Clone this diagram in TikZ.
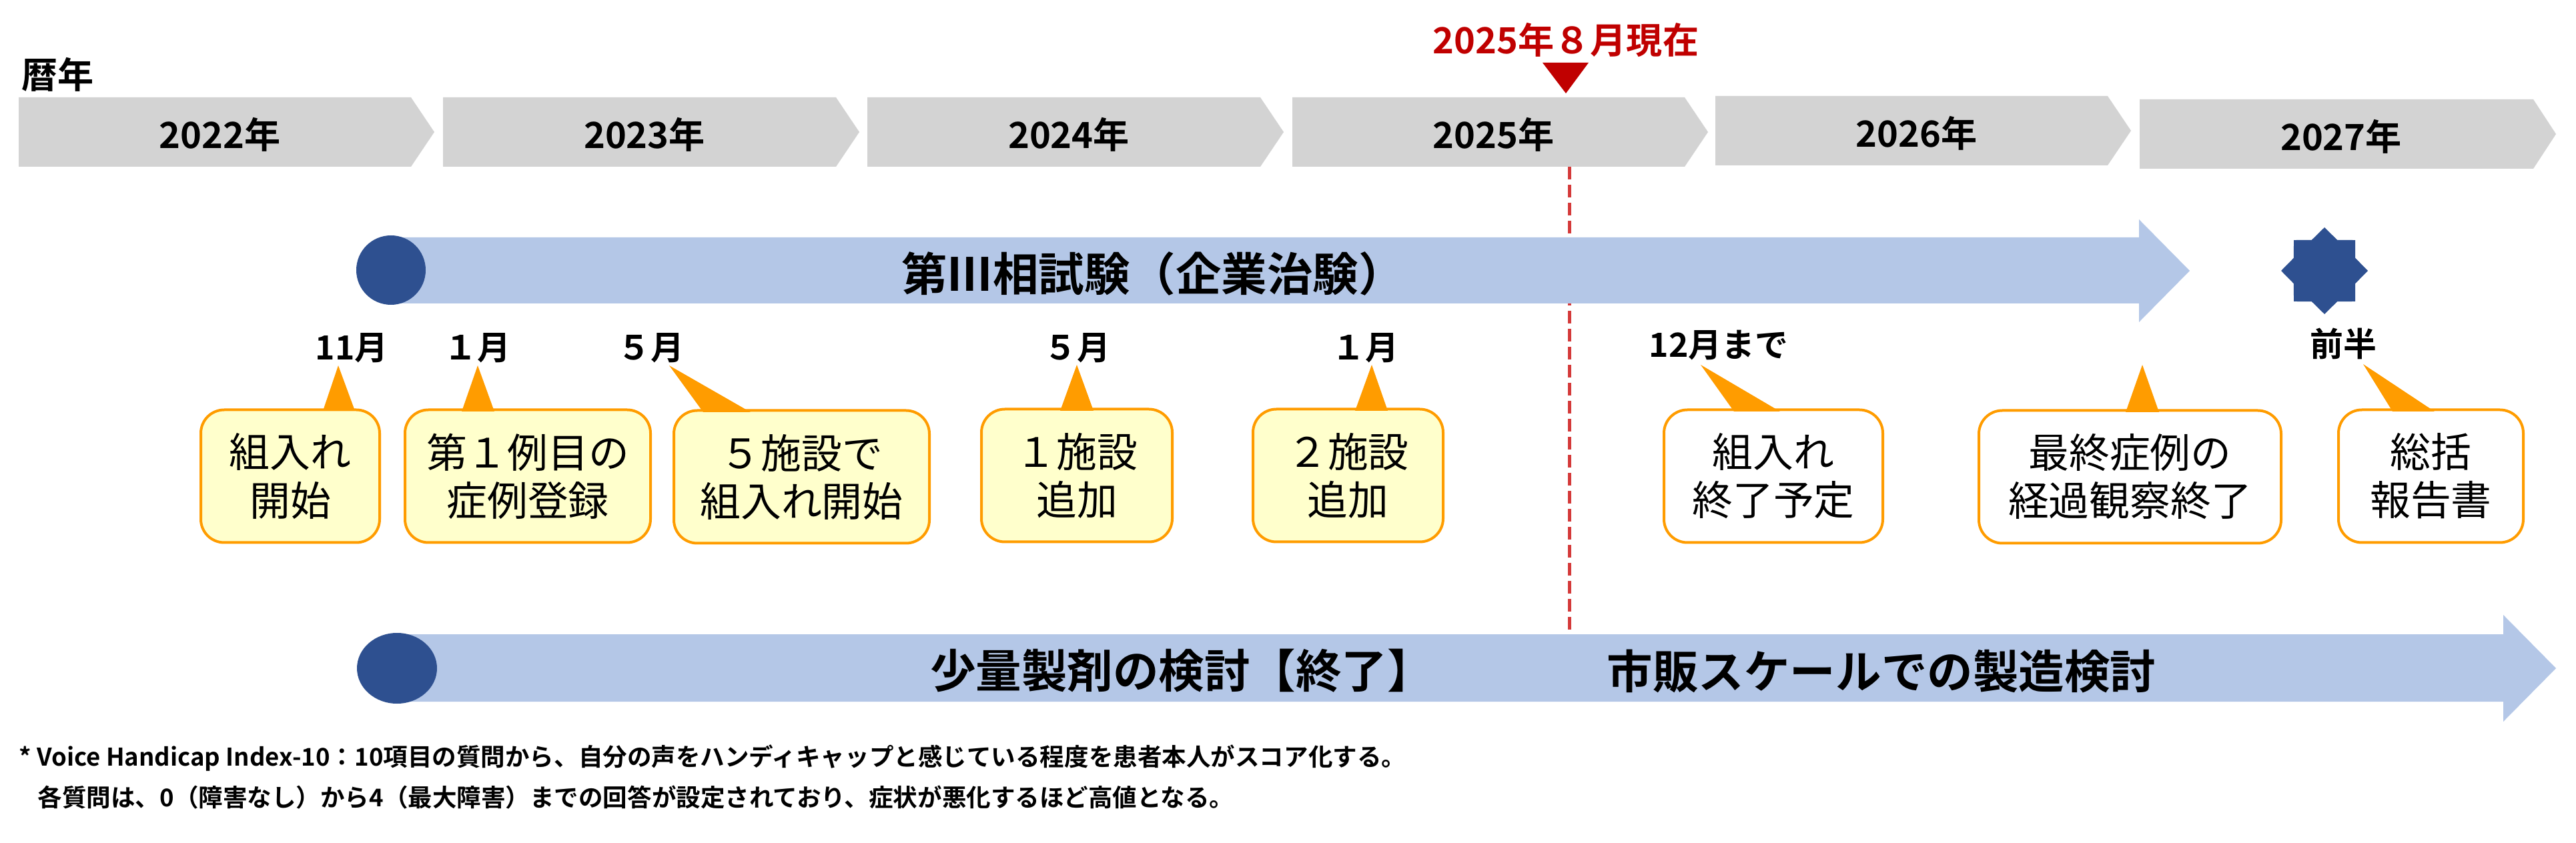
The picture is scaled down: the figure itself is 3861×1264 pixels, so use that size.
\documentclass[tikz,border=0pt]{standalone}
\usepackage{fontspec}
\setmainfont{Noto Sans CJK JP}[BoldFont={Noto Sans CJK JP Bold}]
\definecolor{chevgray}{HTML}{D3D3D3}
\definecolor{arrowblue}{HTML}{B4C7E7}
\definecolor{darkblue}{HTML}{2E5090}
\definecolor{callorange}{HTML}{FF9C00}
\definecolor{callyellow}{HTML}{FFFFCC}
\definecolor{nowred}{HTML}{C00000}
\definecolor{dashred}{HTML}{D43A3A}
\begin{document}
\begin{tikzpicture}[x=0.1mm,y=-0.1mm,
  yearlab/.style={inner sep=0, font=\fontsize{15.4}{18}\selectfont\bfseries},
  monthlab/.style={inner sep=0, font=\fontsize{14.2}{17}\selectfont\bfseries},
  arrowlab/.style={inner sep=0, font=\fontsize{19.5}{23}\selectfont\bfseries},
  callout/.style={draw=callorange, line width=0.4mm, rounded corners=3.5mm,
    minimum height=19.9mm, inner sep=0, align=center,
    font=\fontsize{17.3}{20.5}\selectfont},
  yellowbox/.style={callout, fill=callyellow},
  whitebox/.style={callout, fill=white},
  pointer/.style={fill=callorange},
  fnote/.style={inner sep=0, anchor=west, font=\fontsize{10.4}{12}\selectfont\bfseries},
  chev/.style={fill=chevgray}]
\useasboundingbox (0,0) rectangle (3861,1264);
\fill[white] (0,0) rectangle (3861,1264);

% calendar label
\node[yearlab] (reki) at (87,112) {暦年};

% year chevrons
\foreach \a/\b/\c/\t/\u/\yr in {28/616/651/146/250/2022, 664/1253/1288/146/250/2023,
    1300/1889/1924/146/250/2024, 1937/2525/2560/146/250/2025,
    2571/3159/3194/144/248/2026, 3207/3797/3831/149/253/2027}{
  \fill[chev] (\a,\t) -- (\b,\t) -- (\c,{(\t+\u)/2}) -- (\b,\u) -- (\a,\u) -- cycle;
  \node[yearlab] (y\yr) at ({(\a+\c)/2-10},{(\t+\u)/2+4}) {\yr 年};
}

% current marker
\node[yearlab, text=nowred] (now) at (2347,60) {2025年８月現在};
\fill[nowred] (2312,94) -- (2381,94) -- (2347,140) -- cycle;
\coordinate (dtop) at (2352,250);
\coordinate (dbot) at (2352,951);
\draw[dashred, line width=0.5mm, dash pattern=on 1.9mm off 0.8mm] (dtop) -- (dbot);

% upper arrow
\fill[arrowblue] (586,356) -- (3206,356) -- (3206,329) -- (3282,406) -- (3206,483) -- (3206,455) -- (586,455) -- cycle;
\fill[darkblue] (586,405) circle[radius=52];
\node[arrowlab] (trial) at (1728,410) {第Ⅲ相試験（企業治験）};

% star
\fill[darkblue] (3484,406) +(90:65) -- +(112.5:50) -- +(135:65) -- +(157.5:50) -- +(180:65)
  -- +(202.5:50) -- +(225:65) -- +(247.5:50) -- +(270:65) -- +(292.5:50) -- +(315:65)
  -- +(337.5:50) -- +(0:65) -- +(22.5:50) -- +(45:65) -- +(67.5:50) -- cycle;

% lower arrow
\fill[arrowblue] (595,951) -- (3752,951) -- (3752,922) -- (3831,1002) -- (3752,1082) -- (3752,1052) -- (595,1052) -- cycle;
\fill[darkblue] (595,1002) ellipse[x radius=60, y radius=53];
\node[arrowlab] (small) at (1771,1006) {少量製剤の検討【終了】};
\node[arrowlab] (scale) at (2820,1006) {市販スケールでの製造検討};

% month labels
\node[monthlab] (m1) at (527,522) {11月};
\node[monthlab] (m2) at (715,522) {１月};
\node[monthlab] (m3) at (975,522) {５月};
\node[monthlab] (m4) at (1614,522) {５月};
\node[monthlab] (m5) at (2046,522) {１月};
\node[monthlab] (m6) at (2576,518) {12月まで};
\node[monthlab] (m7) at (3512,515) {前半};

% callout boxes
\node[yellowbox, minimum width=26.8mm] (b1) at (435,714) {組入れ\\開始};
\node[yellowbox, minimum width=36.8mm] (b2) at (791,714) {第１例目の\\症例登録};
\node[yellowbox, minimum width=38.3mm] (b3) at (1201.5,715) {５施設で\\組入れ開始};
\node[yellowbox, minimum width=28.6mm] (b4) at (1614,713) {１施設\\追加};
\node[yellowbox, minimum width=28.5mm] (b5) at (2020.5,713) {２施設\\追加};
\node[whitebox, minimum width=32.8mm] (b6) at (2658,714) {組入れ\\終了予定};
\node[whitebox, minimum width=45.3mm] (b7) at (3192.5,715) {最終症例の\\経過観察終了};
\node[whitebox, minimum width=27.7mm] (b8) at (3643.5,714) {総括\\報告書};

% pointers
\fill[pointer] (484,616) -- (507,548) -- (532,616) -- cycle;
\fill[pointer] (692,617) -- (716,548) -- (741,617) -- cycle;
\fill[pointer] (1054,618) -- (1003,548) -- (1125,618) -- cycle;
\fill[pointer] (1589,616) -- (1614,547) -- (1639,616) -- cycle;
\fill[pointer] (2031,616) -- (2056,547) -- (2080,616) -- cycle;
\fill[pointer] (2599,617) -- (2549,547) -- (2668,617) -- cycle;
\fill[pointer] (3186,618) -- (3211,547) -- (3236,618) -- cycle;
\fill[pointer] (3586,617) -- (3542,546) -- (3649,617) -- cycle;

% footnote
\node[fnote] (fn1) at (28,1137) {* Voice Handicap Index-10：10項目の質問から、自分の声をハンディキャップと感じている程度を患者本人がスコア化する。};
\node[fnote] (fn2) at (56,1195) {各質問は、0（障害なし）から4（最大障害）までの回答が設定されており、症状が悪化するほど高値となる。};
\end{tikzpicture}
\end{document}
